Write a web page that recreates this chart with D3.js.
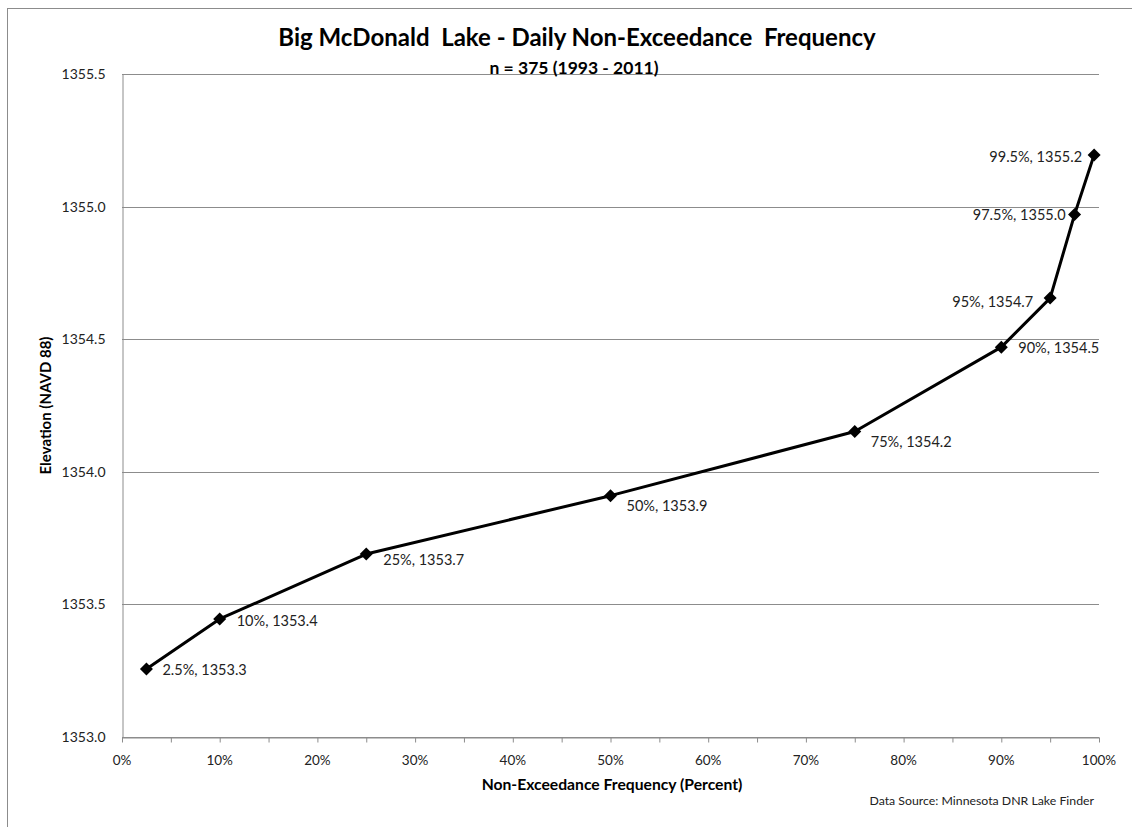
<!DOCTYPE html>
<html>
<head>
<meta charset="utf-8">
<script src="https://cdn.jsdelivr.net/npm/d3@7"></script>
<style>
  html, body { margin: 0; padding: 0; background: #fff; }
  svg { display: block; font-family: Lato, "Open Sans", sans-serif; }
</style>
</head>
<body>
<svg id="chart" width="1132" height="827"></svg>
<script>
// Non-exceedance frequency (percent) and lake elevation (NAVD88)
const frequency = [2.5, 10, 25, 50, 75, 90, 95, 97.5, 99.5];
const elevation = [1353.256, 1353.445, 1353.69, 1353.91, 1354.152, 1354.47, 1354.655, 1354.97, 1355.195];
const yTicks = [1353.0, 1353.5, 1354.0, 1354.5, 1355.0, 1355.5];
const xTicks = [0, 10, 20, 30, 40, 50, 60, 70, 80, 90, 100];
const xMinorTicks = [0, 5, 10, 15, 20, 25, 30, 35, 40, 45, 50, 55, 60, 65, 70, 75, 80, 85, 90, 95, 100];

const titleText = "Big McDonald  Lake - Daily Non-Exceedance  Frequency";
const subtitleText = "n = 375 (1993 - 2011)";
const xTitle = "Non-Exceedance Frequency (Percent)";
const yTitle = "Elevation (NAVD 88)";
const sourceText = "Data Source: Minnesota DNR Lake Finder";

const svg = d3.select("#chart");
const W = 1132, H = 827;
const m = { left: 122, right: 1099, top: 74, bottom: 737 };

// chart frame
svg.append("rect")
  .attr("x", 7.5).attr("y", 8.5)
  .attr("width", W + 20).attr("height", H + 20)
  .attr("fill", "#fff").attr("stroke", "#8c8c8c").attr("stroke-width", 1);

const x = d3.scaleLinear().domain([0, 100]).range([m.left, m.right]);
const y = d3.scaleLinear().domain([1353.0, 1355.5]).range([m.bottom, m.top]);

// horizontal gridlines
svg.append("g")
  .selectAll("line")
  .data(yTicks)
  .join("line")
  .attr("x1", m.left).attr("x2", m.right)
  .attr("y1", d => Math.round(y(d)) + 0.5).attr("y2", d => Math.round(y(d)) + 0.5)
  .attr("stroke", "#8c8c8c").attr("stroke-width", 1);

// y axis
const yAxis = svg.append("g")
  .attr("transform", `translate(${m.left + 0.5},0)`)
  .call(d3.axisLeft(y).tickValues(yTicks).tickFormat(d3.format(".1f")).tickSize(0).tickPadding(17));
yAxis.select(".domain").attr("stroke", "#8c8c8c");
yAxis.selectAll("text").attr("font-size", 14).attr("fill", "#222").attr("font-family", "Lato, sans-serif");

// x axis with minor ticks every 5%
const xAxis = svg.append("g")
  .attr("transform", `translate(0,${Math.round(y(1353.0)) + 0.5})`)
  .call(d3.axisBottom(x).tickValues(xMinorTicks).tickFormat("").tickSizeInner(5).tickSizeOuter(0));
xAxis.select(".domain").attr("stroke", "#8c8c8c");
xAxis.selectAll(".tick line").attr("stroke", "#8c8c8c");

svg.append("g")
  .selectAll("text")
  .data(xTicks)
  .join("text")
  .attr("x", d => x(d))
  .attr("y", 765)
  .attr("text-anchor", "middle")
  .attr("font-size", 13.5)
  .attr("fill", "#222")
  .text(d => d + "%");

// series line
const pts = frequency.map((f, i) => ({ f, v: elevation[i] }));
svg.append("path")
  .datum(pts)
  .attr("fill", "none")
  .attr("stroke", "#000")
  .attr("stroke-width", 3)
  .attr("stroke-linejoin", "round")
  .attr("d", d3.line().x(d => x(d.f)).y(d => y(d.v)));

// diamond markers
svg.append("g")
  .selectAll("path")
  .data(pts)
  .join("path")
  .attr("transform", d => `translate(${x(d.f)},${y(d.v)})`)
  .attr("d", "M0,-6.5L6.5,0L0,6.5L-6.5,0Z")
  .attr("fill", "#000");

// data label placement (offset from the marker, text anchor)
const labelPlace = {
  2.5:  { dx: 16,  dy: 6,  anchor: "start" },
  10:   { dx: 17,  dy: 7,  anchor: "start" },
  25:   { dx: 17,  dy: 11, anchor: "start" },
  50:   { dx: 16,  dy: 15, anchor: "start" },
  75:   { dx: 16,  dy: 16, anchor: "start" },
  90:   { dx: 17,  dy: 6,  anchor: "start" },
  95:   { dx: -17, dy: 9,  anchor: "end" },
  97.5: { dx: -9,  dy: 5,  anchor: "end" },
  99.5: { dx: -12, dy: 7,  anchor: "end" }
};
const labelFmt = d3.format(".1f");
svg.append("g")
  .selectAll("text")
  .data(pts)
  .join("text")
  .attr("x", d => x(d.f) + labelPlace[d.f].dx)
  .attr("y", d => y(d.v) + labelPlace[d.f].dy)
  .attr("text-anchor", d => labelPlace[d.f].anchor)
  .attr("font-size", 14.5)
  .attr("fill", "#222")
  .text(d => `${d.f}%, ${labelFmt(d.v)}`);

// titles
svg.append("text")
  .attr("x", 577).attr("y", 46)
  .attr("text-anchor", "middle")
  .attr("font-size", 24).attr("font-weight", "bold").attr("fill", "#000")
  .attr("xml:space", "preserve")
  .text(titleText);

svg.append("text")
  .attr("x", 574).attr("y", 74)
  .attr("text-anchor", "middle")
  .attr("font-size", 17.5).attr("font-weight", "bold").attr("fill", "#000")
  .text(subtitleText);

svg.append("text")
  .attr("transform", `translate(51,${(m.top + m.bottom) / 2}) rotate(-90)`)
  .attr("text-anchor", "middle")
  .attr("font-size", 15).attr("font-weight", "bold").attr("fill", "#000")
  .text(yTitle);

svg.append("text")
  .attr("x", 612).attr("y", 790)
  .attr("text-anchor", "middle")
  .attr("font-size", 15.7).attr("font-weight", "bold").attr("fill", "#000")
  .text(xTitle);

svg.append("text")
  .attr("x", 1094).attr("y", 805)
  .attr("text-anchor", "end")
  .attr("font-size", 12.3).attr("fill", "#222")
  .text(sourceText);
</script>
</body>
</html>
